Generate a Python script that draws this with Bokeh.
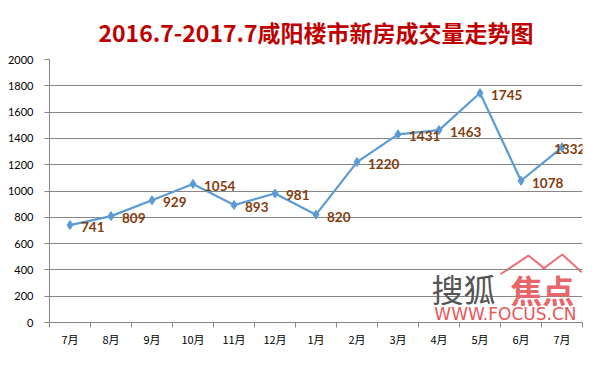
from bokeh.plotting import figure
from bokeh.models import ColumnDataSource, FixedTicker, Range1d, Label
from bokeh.embed import file_html
from bokeh.resources import INLINE
from bokeh.core.properties import value

title_text = "2016.7-2017.7咸阳楼市新房成交量走势图"
months = ["7月", "8月", "9月", "10月", "11月", "12月", "1月", "2月", "3月", "4月", "5月", "6月", "7月"]
volumes = [741, 809, 929, 1054, 893, 981, 820, 1220, 1431, 1463, 1745, 1078, 1332]
y_ticks = [0, 200, 400, 600, 800, 1000, 1200, 1400, 1600, 1800, 2000]

n = len(months)
xs = list(range(n))
offsets = [11] * (n - 1) + [-8]
src = ColumnDataSource(dict(x=xs, y=volumes, label=[str(v) for v in volumes], off=offsets))

p = figure(width=585, height=349, output_backend="svg", toolbar_location=None,
           x_range=Range1d(-0.5, n - 0.5), y_range=Range1d(y_ticks[0], y_ticks[-1]),
           min_border_left=49, min_border_right=3, min_border_top=59, min_border_bottom=23)
p.outline_line_color = None
p.background_fill_color = "white"
p.border_fill_color = "white"

p.title.text = title_text
p.title.align = "center"
p.title.offset = -15
p.title.standoff = 22
p.title.text_font = "Noto Sans CJK SC"
p.title.text_font_size = "23px"
p.title.text_font_style = "bold"
p.title.text_color = "#C00000"

# axes
p.yaxis.ticker = FixedTicker(ticks=y_ticks)
p.yaxis.axis_line_color = "#868686"
p.yaxis.major_tick_line_color = "#868686"
p.yaxis.major_tick_out = 5
p.yaxis.major_tick_in = 0
p.yaxis.minor_tick_line_color = None
p.yaxis.major_label_text_font = "Lato"
p.yaxis.major_label_text_font_size = "11px"
p.yaxis.major_label_text_color = "black"
p.yaxis.major_label_standoff = 11

p.xaxis.ticker = FixedTicker(ticks=xs, minor_ticks=[i - 0.5 for i in range(n + 1)])
p.xaxis.major_label_overrides = {i: m for i, m in enumerate(months)}
p.xaxis.axis_line_color = "#868686"
p.xaxis.major_tick_line_color = None
p.xaxis.minor_tick_line_color = "#868686"
p.xaxis.minor_tick_out = 5
p.xaxis.minor_tick_in = 0
p.xaxis.major_label_text_font = "Noto Sans CJK SC"
p.xaxis.major_label_text_font_size = "11px"
p.xaxis.major_label_text_color = "black"
p.xaxis.major_label_standoff = 2

p.xgrid.grid_line_color = None
p.ygrid.ticker = FixedTicker(ticks=y_ticks)
p.ygrid.grid_line_color = "#868686"
p.ygrid.grid_line_width = 1

# watermark (搜狐焦点 logo)
p.add_layout(Label(x=9.6, y=262, text="搜狐", text_font="Noto Sans CJK SC", text_font_size="32px",
                   text_color="#555555", text_align="center", text_baseline="middle", level="underlay"))
p.add_layout(Label(x=11.52, y=255, text="焦点", text_font="Noto Sans CJK SC", text_font_size="32px",
                   text_font_style="bold", text_color="#E8666A", text_align="center",
                   text_baseline="middle", level="underlay"))
p.add_layout(Label(x=10.62, y=62, text="WWW.FOCUS.CN", text_font="DejaVu Sans", text_font_size="17px",
                   text_color="#E8575A", text_align="center", text_baseline="middle", level="underlay"))
p.line(x=[10.5, 11.18, 11.6], y=[367, 509, 404], line_color="#EB7375", line_width=2, level="underlay")
p.line(x=[11.52, 12.01, 12.48], y=[404, 517, 382], line_color="#EB7375", line_width=2, level="underlay")

# series
p.line(x="x", y="y", source=src, line_color="#5B9BD5", line_width=2.2)
p.scatter(x="x", y="y", source=src, marker="diamond", size=9, fill_color="#5B9BD5",
          line_color="#5B9BD5")
p.text(x="x", y="y", text="label", source=src, x_offset="off", y_offset=2, text_baseline="middle",
       text_font=value("Lato"), text_font_size="13.5px", text_font_style="bold", text_color="#843C0C")

open("out.html", "w").write(file_html(p, INLINE))
